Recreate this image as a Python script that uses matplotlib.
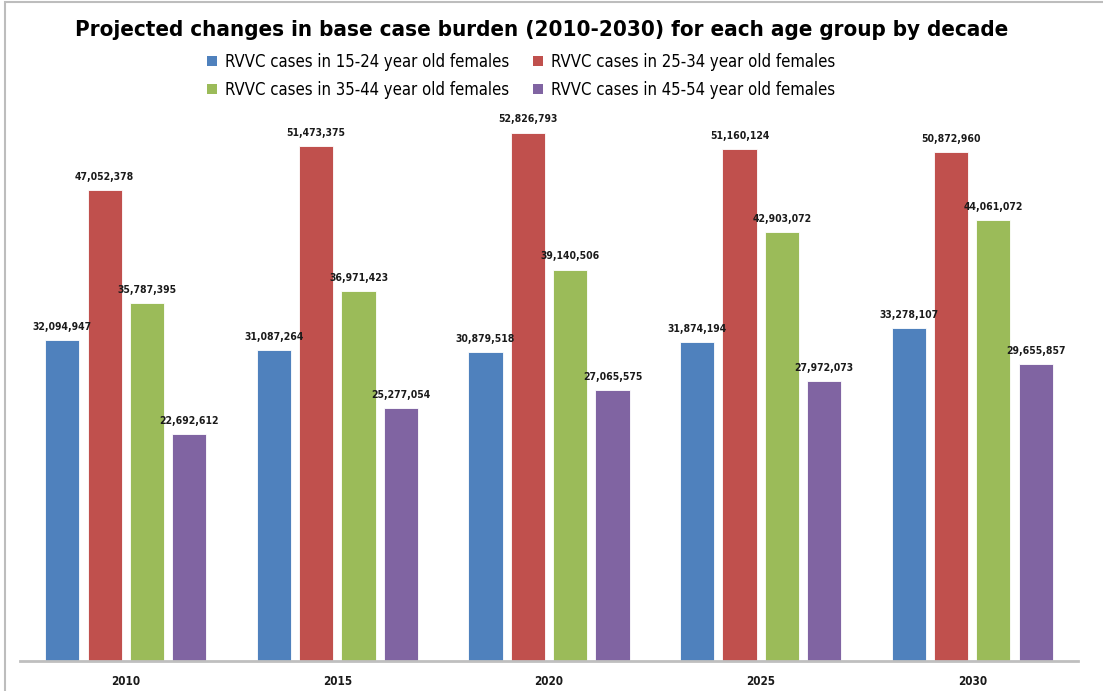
import matplotlib
matplotlib.use("Agg")
import matplotlib.pyplot as plt
from matplotlib.patches import Rectangle, Patch
from matplotlib import font_manager as fm

plt.rcParams["font.family"] = ["DejaVu Sans"]

# use condensed DejaVu if available (closer to the narrow Calibri of the original)
_p = fm.findfont(fm.FontProperties(family="DejaVu Sans", stretch="condensed", weight="bold"))
COND = "Condensed" in _p
STRETCH = "condensed" if COND else "normal"
K = 1.12 if COND else 1.0

years = ["2010", "2015", "2020", "2025", "2030"]
series_names = [
    "RVVC cases in 15-24 year old females",
    "RVVC cases in 25-34 year old females",
    "RVVC cases in 35-44 year old females",
    "RVVC cases in 45-54 year old females",
]
age_15_24 = [32094947, 31087264, 30879518, 31874194, 33278107]
age_25_34 = [47052378, 51473375, 52826793, 51160124, 50872960]
age_35_44 = [35787395, 36971423, 39140506, 42903072, 44061072]
age_45_54 = [22692612, 25277054, 27065575, 27972073, 29655857]
series = [age_15_24, age_25_34, age_35_44, age_45_54]
colors = ["#4F81BD", "#C0504D", "#9BBB59", "#8064A2"]

W, H = 1103, 691
fig = plt.figure(figsize=(W / 100, H / 100), dpi=100)
fig.patch.set_facecolor("white")

# outer chart border (left and top visible)
fig.add_artist(Rectangle((5 / W, -0.1), 1.2, (H - 2) / H + 0.1,
                         transform=fig.transFigure, fill=False,
                         edgecolor="#BDBDBD", linewidth=1.5))

ax_left, ax_right = 20, 1078
ax_top, ax_bottom = 61, 661
ax = fig.add_axes([ax_left / W, (H - ax_bottom) / H,
                   (ax_right - ax_left) / W, (ax_bottom - ax_top) / H])
ax.set_xlim(-0.5, len(years) - 0.5)
ax.set_ylim(0, 60_000_000)

offsets = [-0.3, -0.1, 0.1, 0.3]
width = 0.162
x = list(range(len(years)))
for vals, off, col in zip(series, offsets, colors):
    xs = [xi + off for xi in x]
    ax.bar(xs, vals, width=width, color=col, edgecolor="white", linewidth=0.6, zorder=2)
    for xi, v in zip(xs, vals):
        ax.annotate(f"{v:,}", (xi, v), xytext=(0, 6), textcoords="offset points",
                    ha="center", va="bottom", fontsize=6.7 * K, fontweight="bold",
                    fontstretch=STRETCH, color="#1a1a1a")

for s in ["top", "right", "left"]:
    ax.spines[s].set_visible(False)
ax.spines["bottom"].set_color("#BFBFBF")
ax.spines["bottom"].set_linewidth(2)
ax.set_yticks([])
ax.set_xticks(x)
ax.set_xticklabels(years, fontsize=7.5 * K, fontweight="bold", color="#1a1a1a",
                   fontstretch=STRETCH)
ax.tick_params(axis="x", length=0, pad=10)
ax.patch.set_alpha(0)

fig.text(542 / W, 1 - 30 / H,
         "Projected changes in base case burden (2010-2030) for each age group by decade",
         ha="center", va="center", fontsize=14.3 * K, fontweight="bold",
         fontstretch=STRETCH, color="black")

handles = [Patch(facecolor=c, edgecolor="none") for c in colors]
order = [0, 2, 1, 3]  # row-wise fill: 15-24, 25-34 / 35-44, 45-54
fig.legend([handles[i] for i in order], [series_names[i] for i in order],
           ncol=2, loc="center",
           bbox_to_anchor=(521 / W, 1 - 76 / H), frameon=False,
           prop=fm.FontProperties(family="DejaVu Sans", size=10.7 * K, stretch=STRETCH),
           handlelength=0.6, handleheight=0.6, handletextpad=0.5,
           columnspacing=1.4, labelspacing=0.6)

fig.savefig("out.png", dpi=100, facecolor="white")
